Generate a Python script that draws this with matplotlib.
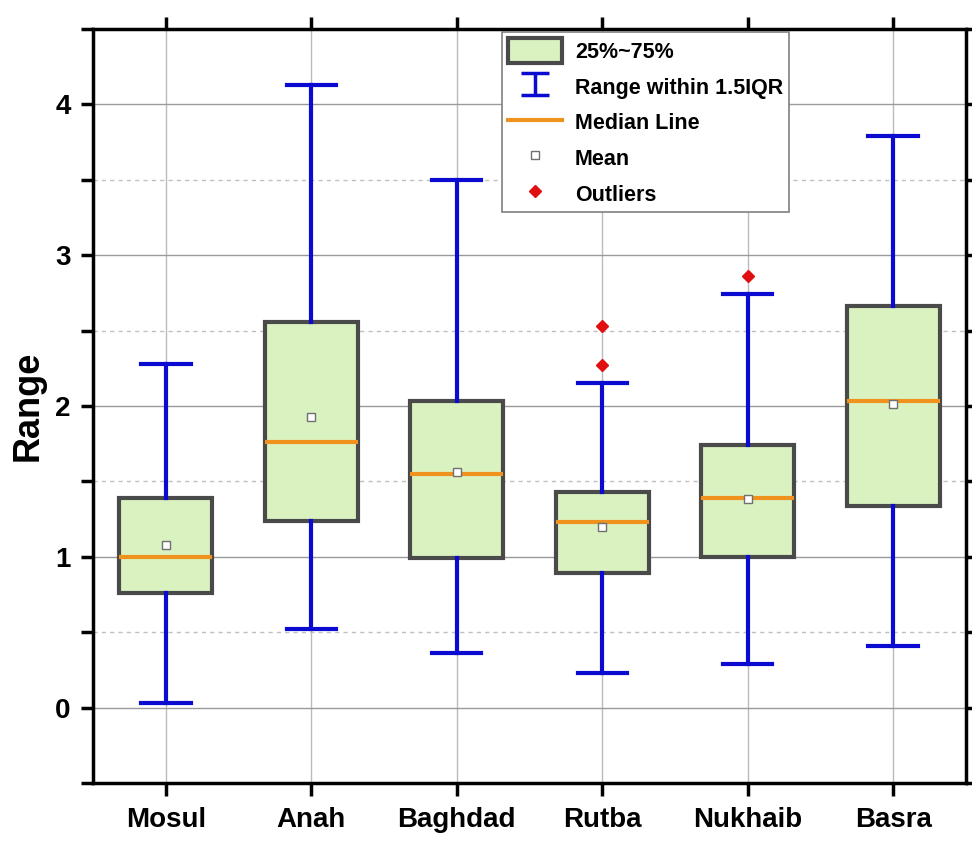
import matplotlib
matplotlib.use("Agg")
import matplotlib.pyplot as plt
from matplotlib.patches import Patch
from matplotlib.lines import Line2D
from matplotlib.ticker import MultipleLocator

plt.rcParams['font.family'] = ['Liberation Sans', 'DejaVu Sans']
plt.rcParams['font.weight'] = 'bold'

stations = ["Mosul", "Anah", "Baghdad", "Rutba", "Nukhaib", "Basra"]
whislo = [0.03, 0.52, 0.36, 0.23, 0.29, 0.41]
q1 = [0.76, 1.24, 0.99, 0.89, 1.00, 1.34]
med = [1.00, 1.76, 1.55, 1.23, 1.39, 2.03]
q3 = [1.39, 2.56, 2.03, 1.43, 1.74, 2.66]
whishi = [2.28, 4.13, 3.50, 2.15, 2.74, 3.79]
means = [1.08, 1.93, 1.56, 1.20, 1.38, 2.01]
outliers = [[], [], [], [2.53, 2.27], [2.86], []]

BOX_FILL = "#d9f2c0"
BOX_EDGE = "#4a4a4a"
WHISK = "#0a0ad0"
MEDIAN = "#f0921e"
OUTLIER = "#e01010"


def main():
    stats = []
    for i, name in enumerate(stations):
        stats.append(dict(label=name, whislo=whislo[i], q1=q1[i], med=med[i],
                          q3=q3[i], whishi=whishi[i], mean=means[i],
                          fliers=outliers[i]))

    fig = plt.figure(figsize=(9.72, 8.41), dpi=100)
    ax = fig.add_axes([0.0957, 0.069, 0.8981, 0.8965])

    ax.bxp(stats, positions=range(1, 7), widths=0.64, patch_artist=True,
           showmeans=True, showfliers=True,
           boxprops=dict(facecolor=BOX_FILL, edgecolor=BOX_EDGE, linewidth=3),
           whiskerprops=dict(color=WHISK, linewidth=3),
           capprops=dict(color=WHISK, linewidth=3),
           capwidths=0.34,
           medianprops=dict(color=MEDIAN, linewidth=3),
           meanprops=dict(marker='s', markerfacecolor='white',
                          markeredgecolor='#707070', markersize=6,
                          markeredgewidth=1),
           flierprops=dict(marker='D', markerfacecolor=OUTLIER,
                           markeredgecolor=OUTLIER, markersize=6))

    ax.set_xlim(0.5, 6.5)
    ax.set_ylim(-0.5, 4.5)
    ax.set_yticks([0, 1, 2, 3, 4])
    ax.yaxis.set_minor_locator(MultipleLocator(0.5))
    ax.set_xticks(range(1, 7))
    ax.set_xticklabels(stations)

    ax.grid(True, which='major', axis='y', color='#9a9a9a', linewidth=1)
    ax.grid(True, which='minor', axis='y', color='#c0c0c0', linewidth=1,
            linestyle=(0, (3, 3)))
    ax.grid(True, which='major', axis='x', color='#bbbbbb', linewidth=1)
    ax.set_axisbelow(True)

    for s in ax.spines.values():
        s.set_linewidth(2.5)
    ax.tick_params(which='both', direction='out', width=2.5, length=9,
                   top=True, right=True, labelsize=20, pad=7)
    ax.tick_params(axis='x', labelsize=20, pad=8)
    ax.tick_params(which='minor', labelleft=False)

    ax.set_ylabel("Range", fontsize=26, fontweight='bold', labelpad=7)

    err = ax.errorbar([float('nan')], [float('nan')], yerr=[float('nan')],
                      fmt='none', ecolor=WHISK, elinewidth=2.5, capsize=10,
                      capthick=2.5)
    handles = [
        Patch(facecolor=BOX_FILL, edgecolor=BOX_EDGE, linewidth=3),
        err,
        Line2D([], [], color=MEDIAN, linewidth=3),
        Line2D([], [], linestyle='none', marker='s', markerfacecolor='white',
               markeredgecolor='#707070', markersize=6),
        Line2D([], [], linestyle='none', marker='D', markerfacecolor=OUTLIER,
               markeredgecolor=OUTLIER, markersize=6),
    ]
    labels = ["25%~75%", "Range within 1.5IQR", "Median Line", "Mean", "Outliers"]
    leg = ax.legend(handles, labels, loc='upper left',
                    bbox_to_anchor=(0.468, 0.996), fontsize=15.5,
                    fancybox=False, framealpha=1, edgecolor='#808080',
                    borderaxespad=0, handlelength=2.5, handleheight=1.4,
                    labelspacing=0.5, borderpad=0.3, handletextpad=0.6)
    leg.get_frame().set_linewidth(1.2)

    fig.savefig("out.png", dpi=100)


if __name__ == "__main__":
    main()
